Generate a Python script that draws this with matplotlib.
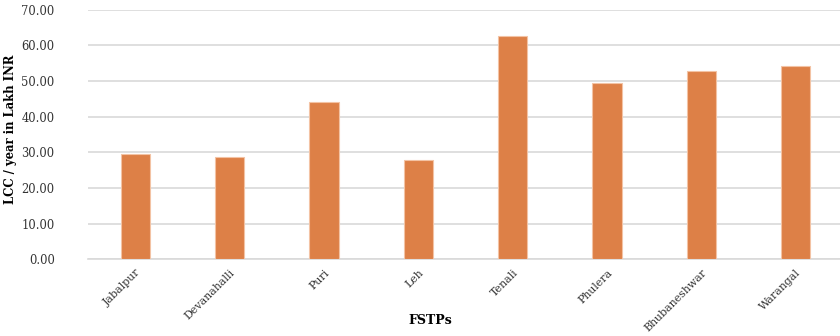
import numpy as np
import matplotlib.pyplot as plt

# life-cycle cost per year for each FSTP
sites = ['Jabalpur', 'Devanahalli', 'Puri', 'Leh', 'Tenali', 'Phulera', 'Bhubaneshwar', 'Warangal']
lcc = [29.6, 28.8, 44.2, 27.8, 62.6, 49.4, 52.8, 54.3]
yticks = [0, 10, 20, 30, 40, 50, 60, 70]

plt.rcParams['font.family'] = ['DejaVu Serif']

fig = plt.figure(figsize=(8.4, 3.36), dpi=100)
ax = fig.add_axes([88/840, 0.228, 752/840, 0.743])

x = np.arange(len(sites))
ax.bar(x, lcc, width=0.31, color='#DD8047', edgecolor='#F3C3A4', linewidth=0.8, zorder=3)

ax.set_ylim(0, 70)
ax.set_xlim(-0.5, 7.47)
ax.set_yticks(yticks)
ax.set_yticklabels(['%.2f' % v for v in yticks], fontsize=8.3, color='#333333')
ax.yaxis.grid(True, color='#D9D9D9', linewidth=1.2, zorder=0)
ax.tick_params(axis='both', length=0)
ax.tick_params(axis='y', pad=24)

ax.set_xticks(x)
ax.set_xticklabels(sites, rotation=45, ha='right', rotation_mode='anchor', fontsize=7.9, color='#333333')
ax.tick_params(axis='x', pad=6)

for s in ['top', 'right', 'left']:
    ax.spines[s].set_visible(False)
ax.spines['bottom'].set_color('#D9D9D9')
ax.spines['bottom'].set_linewidth(1.2)

ax.set_ylabel('LCC / year in Lakh INR', fontsize=8.4, fontweight='bold', labelpad=10)
ax.yaxis.set_label_coords(-0.094, 0.52)
fig.text(0.512, 0.035, 'FSTPs', fontsize=9, fontweight='bold', ha='center')

fig.savefig('out.png', dpi=100)
